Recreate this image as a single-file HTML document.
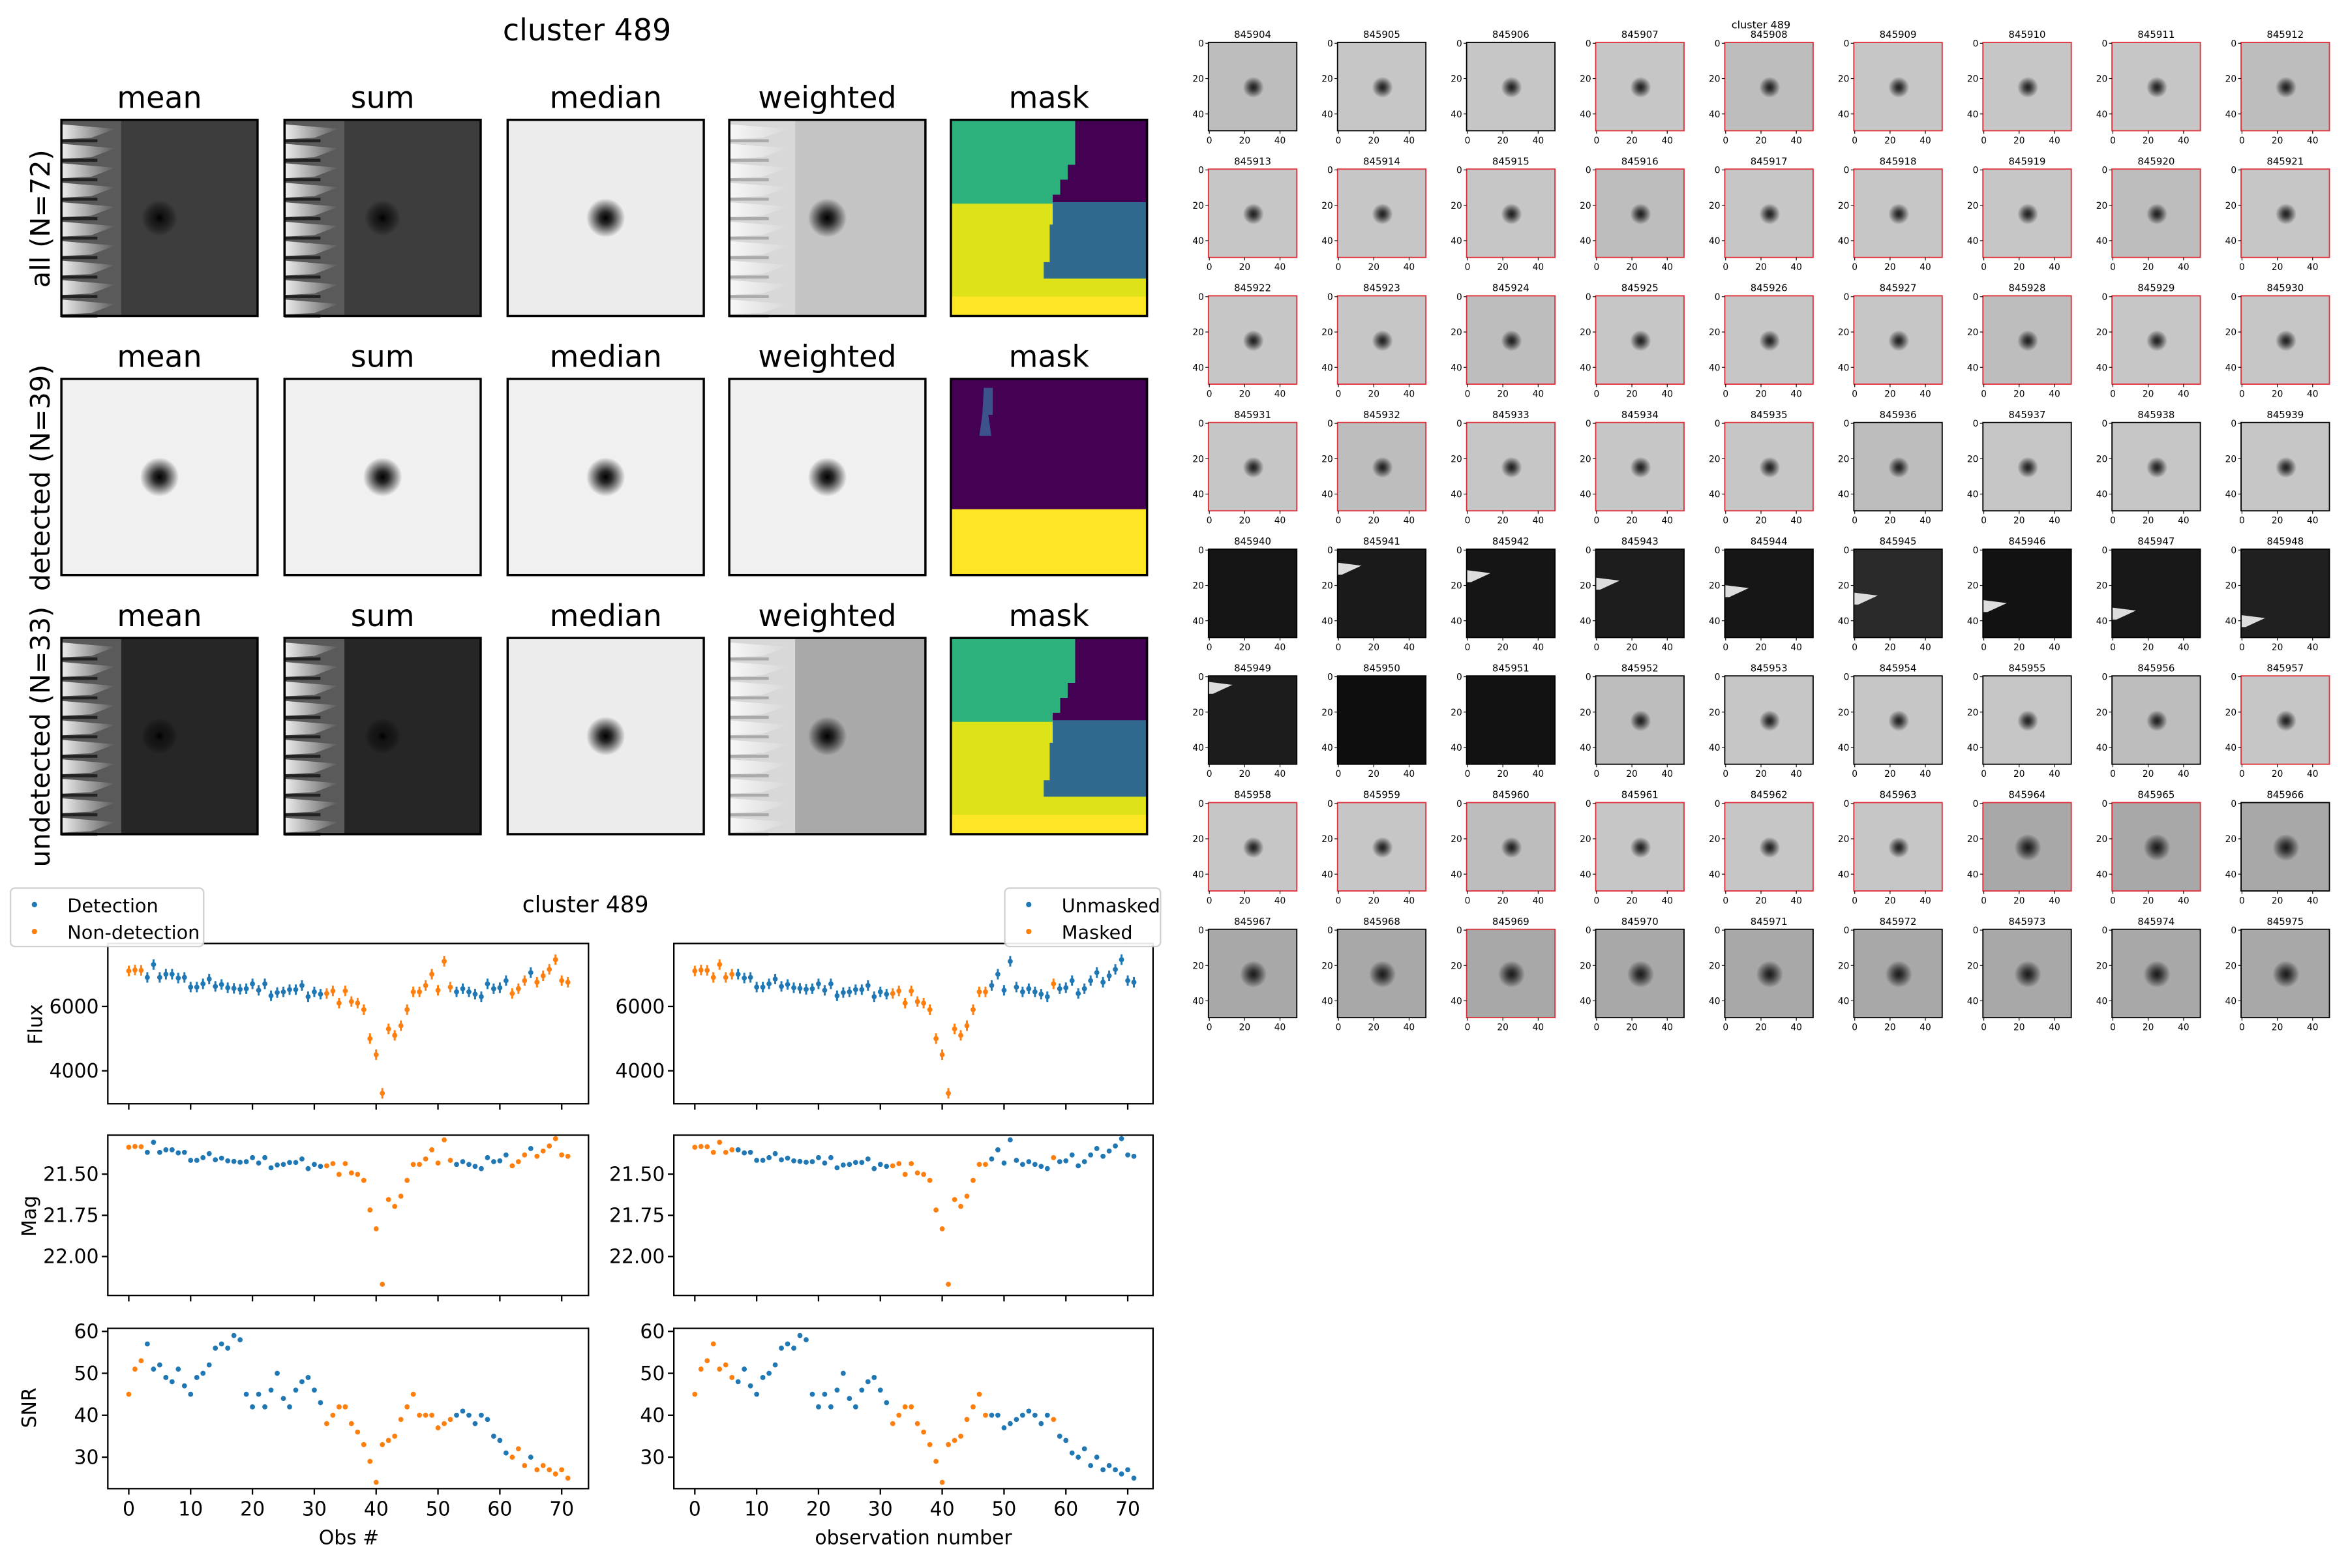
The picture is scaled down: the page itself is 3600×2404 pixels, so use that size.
<!DOCTYPE html>
<html><head><meta charset="utf-8"><style>html,body{margin:0;padding:0;background:#fff}svg{display:block}text{font-family:"DejaVu Sans","Liberation Sans",sans-serif}</style></head>
<body>
<svg id="s" xmlns="http://www.w3.org/2000/svg" width="3600" height="2404" viewBox="0 0 1568 1047" preserveAspectRatio="none">
<defs>
<radialGradient id="spot"><stop offset="0" stop-color="#000" stop-opacity="1"/><stop offset="0.3" stop-color="#111" stop-opacity="0.9"/><stop offset="1" stop-color="#000" stop-opacity="0"/></radialGradient>
<linearGradient id="streak" x1="0" x2="1"><stop offset="0" stop-color="#fff"/><stop offset="1" stop-color="#fff" stop-opacity="0"/></linearGradient>
<filter id="noise" x="0" y="0" width="1" height="1"><feTurbulence type="fractalNoise" baseFrequency="0.9" numOctaves="1" seed="3"/><feColorMatrix type="matrix" values="0 0 0 0 0.5  0 0 0 0 0.5  0 0 0 0 0.5  0 0 0 0.35 0"/><feComposite in2="SourceGraphic" operator="in"/></filter>
</defs>
<g id="g"></g>
</svg>
<script>
var out=[];
function t(x,y,s,txt,a,ex){out.push('<text x="'+x+'" y="'+y+'" font-size="'+s+'" text-anchor="'+(a||'middle')+'" '+(ex||'')+'>'+txt+'</text>');}
function r(x,y,w,h,f,ex){out.push('<rect x="'+x+'" y="'+y+'" width="'+w+'" height="'+h+'" fill="'+f+'" '+(ex||'')+'/>');}
t(392,27,20,'cluster 489');
var cx=[41,190,339,487,635], ry=[80,253,426], names=['mean','sum','median','weighted','mask'];
var W=131;
function streaks(x,y,bg,sw,lite){
  r(x,y,sw,W,lite?'#d8d8d8':'#5a5a5a');
  for(var i=0;i<10;i++){var yy=y+i*13+3;
    out.push('<polygon points="'+x+','+yy+' '+(x+sw*0.9)+','+(yy+3)+' '+(x+sw*0.5)+','+(yy+9)+' '+x+','+(yy+10)+'" fill="url(#streak)" opacity="'+(lite?0.8:0.9)+'"/>');
    r(x,yy+10,sw*0.6,2,lite?'#aaa':'#222');
  }
}
function spot(x,y,rad){out.push('<circle cx="'+(x+W/2)+'" cy="'+(y+W/2)+'" r="'+rad+'" fill="url(#spot)"/>');}
function mask1(x,y){
  r(x,y,W,W,'#dde318');
  r(x,y,W,56,'#2db27d');
  out.push('<polygon points="'+(x+83)+','+y+' '+(x+W)+','+y+' '+(x+W)+','+(y+55)+' '+(x+68)+','+(y+55)+' '+(x+68)+','+(y+50)+' '+(x+73)+','+(y+50)+' '+(x+73)+','+(y+40)+' '+(x+78)+','+(y+40)+' '+(x+78)+','+(y+30)+' '+(x+83)+','+(y+30)+'" fill="#440154"/>');
  out.push('<polygon points="'+(x+68)+','+(y+55)+' '+(x+W)+','+(y+55)+' '+(x+W)+','+(y+106)+' '+(x+62)+','+(y+106)+' '+(x+62)+','+(y+95)+' '+(x+66)+','+(y+95)+' '+(x+66)+','+(y+70)+' '+(x+68)+','+(y+70)+'" fill="#31688e"/>');
  r(x,y+118,W,13,'#fde725');
}
for(var R=0;R<3;R++){for(var C=0;C<5;C++){
  var x=cx[C],y=ry[R];
  t(x+W/2,y-8,20,names[C]);
  if(C==4){ if(R==1){r(x,y,W,W,'#440154');r(x,y+87,W,44,'#fde725');out.push('<path d="M'+(x+22)+','+(y+6)+' l6,0 l0,18 l-3,0 l2,14 l-8,0 l2,-14 z" fill="#3b528b"/>');} else mask1(x,y);}
  else if(R==1){r(x,y,W,W,'#f0f0f0');spot(x,y,13);}
  else if(C<2){var bg=R==0?'#3d3d3d':'#262626';r(x,y,W,W,bg);streaks(x,y,bg,40,false);spot(x,y,12);}
  else if(C==2){r(x,y,W,W,'#ececec');spot(x,y,13);}
  else {r(x,y,W,W,R==0?'#c4c4c4':'#a9a9a9');streaks(x,y,'#ccc',44,true);spot(x,y,13);}
  r(x,y,W,W,'none','stroke="#000" stroke-width="1.5"');
}}
t(33,146,18,'all (N=72)','middle','transform="rotate(-90 33 146)"');
t(33,319,18,'detected (N=39)','middle','transform="rotate(-90 33 319)"');
t(33,492,18,'undetected (N=33)','middle','transform="rotate(-90 33 492)"');

var flux=[7100,7130,7120,6900,7300,6900,7000,7000,6880,6900,6600,6600,6700,6850,6620,6680,6580,6560,6530,6550,6700,6500,6700,6330,6430,6450,6520,6520,6650,6300,6450,6380,6400,6480,6100,6480,6150,6100,5900,5000,4500,3300,5300,5100,5400,5900,6450,6450,6650,7000,6500,7400,6600,6450,6550,6450,6380,6300,6700,6550,6580,6800,6400,6550,6800,7050,6750,6950,7150,7450,6800,6750];
var snr=[45,51,53,57,51,52,49,48,51,47,45,49,50,52,56,57,56,59,58,45,42,45,42,46,50,44,42,46,48,49,46,43,38,40,42,42,38,36,33,29,24,33,34,35,39,42,45,40,40,40,37,38,39,40,41,40,38,40,39,35,34,31,30,32,28,30,27,28,27,26,27,25];
var orL=function(i){return i<=2||(i>=32&&i<=52)||(i>=62&&i<=64)||i>=66;};
var orR=function(i){return i<=6||(i>=32&&i<=47)||i==58;};
var B='#1f77b4',O='#ff7f0e';
function panel(x0,x1,y0,y1,X0,yfun,ticks,vals,col,err,xl){
  for(var i=0;i<72;i++){var px=X0+i*4.13,py=yfun(vals[i]);var c=col(i)?O:B;
    if(err)out.push('<line x1="'+px+'" x2="'+px+'" y1="'+(py-3.5)+'" y2="'+(py+3.5)+'" stroke="'+c+'" stroke-width="1.3"/>');
    out.push('<circle cx="'+px+'" cy="'+py+'" r="1.7" fill="'+c+'"/>');}
  r(x0,y0,x1-x0,y1-y0,'none','stroke="#000" stroke-width="1"');
  ticks.forEach(function(tk){var py=yfun(tk[0]);out.push('<line x1="'+(x0-4)+'" x2="'+x0+'" y1="'+py+'" y2="'+py+'" stroke="#000"/>');t(x0-6,py+4.5,13,tk[1],'end');});
  for(var k=0;k<8;k++){var px=X0+k*41.3;out.push('<line x1="'+px+'" x2="'+px+'" y1="'+y1+'" y2="'+(y1+4)+'" stroke="#000"/>');if(xl)t(px,y1+18,13,String(k*10));}
}
var fy=function(f){return 672-(f-6000)*0.0215;};
var mags=flux.map(function(f){return -2.5*Math.log10(f)+30.965;});
var my=function(m){return 784+(m-21.5)*110;};
var sy=function(s){return 889+(60-s)*2.8;};
[[72,393,86,orL],[450,770,464,orR]].forEach(function(P){
  panel(P[0],P[1],630,737,P[2],fy,[[6000,'6000'],[4000,'4000']],flux,P[3],true,false);
  panel(P[0],P[1],758,865,P[2],my,[[21.5,'21.50'],[21.75,'21.75'],[22,'22.00']],mags,P[3],false,false);
  panel(P[0],P[1],887,994,P[2],sy,[[30,'30'],[40,'40'],[50,'50'],[60,'60']],snr,P[3],false,true);
});
t(233,1031,13,'Obs #');t(610,1031,13,'observation number');
t(28,684,13,'Flux','middle','transform="rotate(-90 28 684)"');
t(24,812,13,'Mag','middle','transform="rotate(-90 24 812)"');
t(24,940,13,'SNR','middle','transform="rotate(-90 24 940)"');
t(391,609,15,'cluster 489');
function legend(x,w,a,b){r(x,593,w,39,'#fff','stroke="#ccc" rx="3" opacity="0.9"');
  out.push('<circle cx="'+(x+16)+'" cy="'+604+'" r="1.8" fill="'+B+'"/><circle cx="'+(x+16)+'" cy="'+622+'" r="1.8" fill="'+O+'"/>');
  t(x+38,609,12.5,a,'start');t(x+38,627,12.5,b,'start');}
legend(7,129,'Detection','Non-detection');legend(671,104,'Unmasked','Masked');

t(1176,19,7,'cluster 489');
var red={};[907,908,909,910,911,912,913,914,915,916,917,918,919,920,921,922,923,924,925,926,927,928,929,930,931,932,933,934,935,957,958,959,960,961,962,963,964,965,969].forEach(function(v){red[v]=1;});
var dark={940:'#141414',941:'#1a1a1a',942:'#151515',943:'#1d1d1d',944:'#161616',945:'#2a2a2a',946:'#121212',947:'#181818',948:'#202020',949:'#1c1c1c',950:'#0e0e0e',951:'#121212'};
for(var n=0;n<72;n++){var c=n%9,rw=Math.floor(n/9);var x=807+c*86.2,y=28.3+rw*84.6,id=845904+n,s=id-845000;var w=59;
  if(dark[s]){r(x,y,w,w,dark[s]);if(s>=941&&s<=949){var yy=y+(s-940)*5%45+4;out.push('<polygon points="'+x+','+yy+' '+(x+16)+','+(yy+2)+' '+(x+3)+','+(yy+8)+' '+x+','+(yy+8)+'" fill="#ddd"/>');}}
  else{var g=(n>=60)?'#a8a8a8':(n%4==0?'#bdbdbd':'#c6c6c6');r(x,y,w,w,g);out.push('<circle cx="'+(x+30)+'" cy="'+(y+30)+'" r="'+(n>=60?9:7)+'" fill="url(#spot)" opacity="0.85"/>');}
  r(x,y,w,w,'none','stroke="'+(red[s]?'#e0303a':'#000')+'" stroke-width="0.8"');
  t(x+29.5,y-3,6.5,String(id));
  [0,20,40].forEach(function(v){var py=y+(v+0.5)/50*w,px=x+(v+0.5)/50*w;
    out.push('<line x1="'+(x-2)+'" x2="'+x+'" y1="'+py+'" y2="'+py+'" stroke="#000" stroke-width="0.5"/>');t(x-3,py+2.2,6,String(v),'end');
    out.push('<line x1="'+px+'" x2="'+px+'" y1="'+(y+w)+'" y2="'+(y+w+2)+'" stroke="#000" stroke-width="0.5"/>');t(px,y+w+8.5,6,String(v));});
}
document.getElementById('g').innerHTML=out.join('');
</script>
</body></html>
